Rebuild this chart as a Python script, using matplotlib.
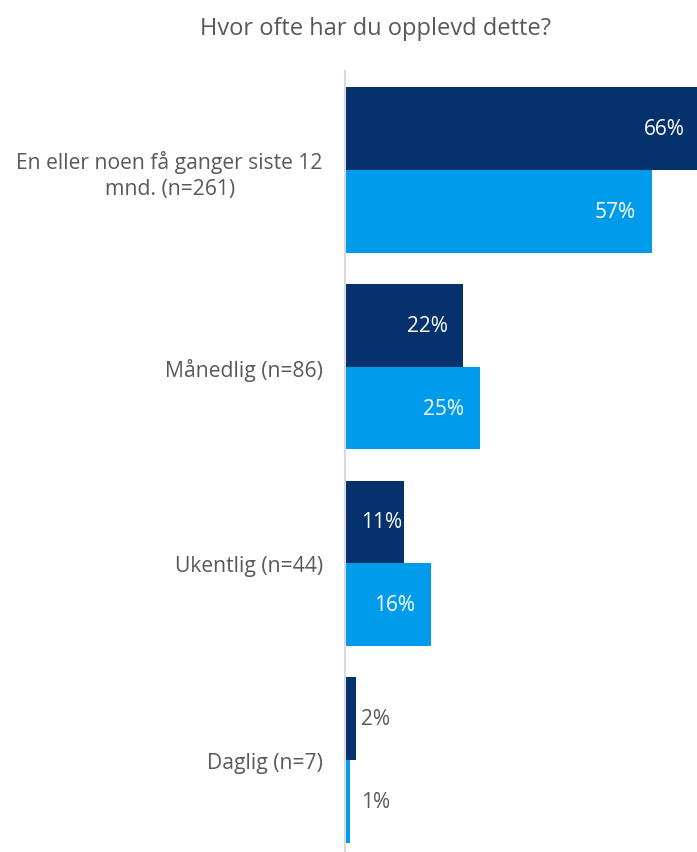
import matplotlib.pyplot as plt
import numpy as np

categories = ["En eller noen få ganger siste 12\nmnd. (n=261)", "Månedlig (n=86)",
              "Ukentlig (n=44)", "Daglig (n=7)"]
series_a = [66, 22, 11, 2]   # dark
series_b = [57, 25, 16, 1]   # light
title = "Hvor ofte har du opplevd dette?"

dark = "#05316C"
light = "#009CEB"
grey = "#595959"
plt.rcParams['font.family'] = ['Open Sans', 'DejaVu Sans']

fig = plt.figure(figsize=(6.97, 8.53), dpi=100)
ax = fig.add_axes([345 / 697, 0, 352 / 697, 1 - 72 / 853])

y = np.arange(len(categories))
h = 0.421
bars_a = ax.barh(y - h / 2, series_a, height=h, color=dark)
bars_b = ax.barh(y + h / 2, series_b, height=h, color=light)

ax.set_xlim(0, 65.4)
ax.set_ylim(3.467, -0.5025)

for bars, vals in [(bars_a, series_a), (bars_b, series_b)]:
    for b, v in zip(bars, vals):
        yc = b.get_y() + b.get_height() / 2
        col = "white" if v >= 5 else grey
        if v >= 12:
            ax.annotate(f"{v}%", xy=(v, yc), xytext=(-11.5, 0), textcoords="offset points",
                        ha="right", va="center", color=col, fontsize=15,
                        annotation_clip=False)
        else:
            # label too wide for inside-end: start it just right of the axis
            ax.annotate(f"{v}%", xy=(0, yc), xytext=(11.5, 0), textcoords="offset points",
                        ha="left", va="center", color=col, fontsize=15)

ax.set_yticks(y)
ax.set_yticklabels(categories, fontsize=15.2, color=grey, multialignment="center",
                   linespacing=1.32)
ax.tick_params(axis="y", length=0, pad=16)
ax.set_xticks([])
for s in ["top", "right", "bottom"]:
    ax.spines[s].set_visible(False)
ax.spines["left"].set_color("#D9D9D9")
ax.spines["left"].set_linewidth(1.5)

fig.text(376 / 697, 1 - 29 / 853, title, ha="center", va="center", fontsize=17, color=grey)

fig.savefig("out.png", dpi=100)
